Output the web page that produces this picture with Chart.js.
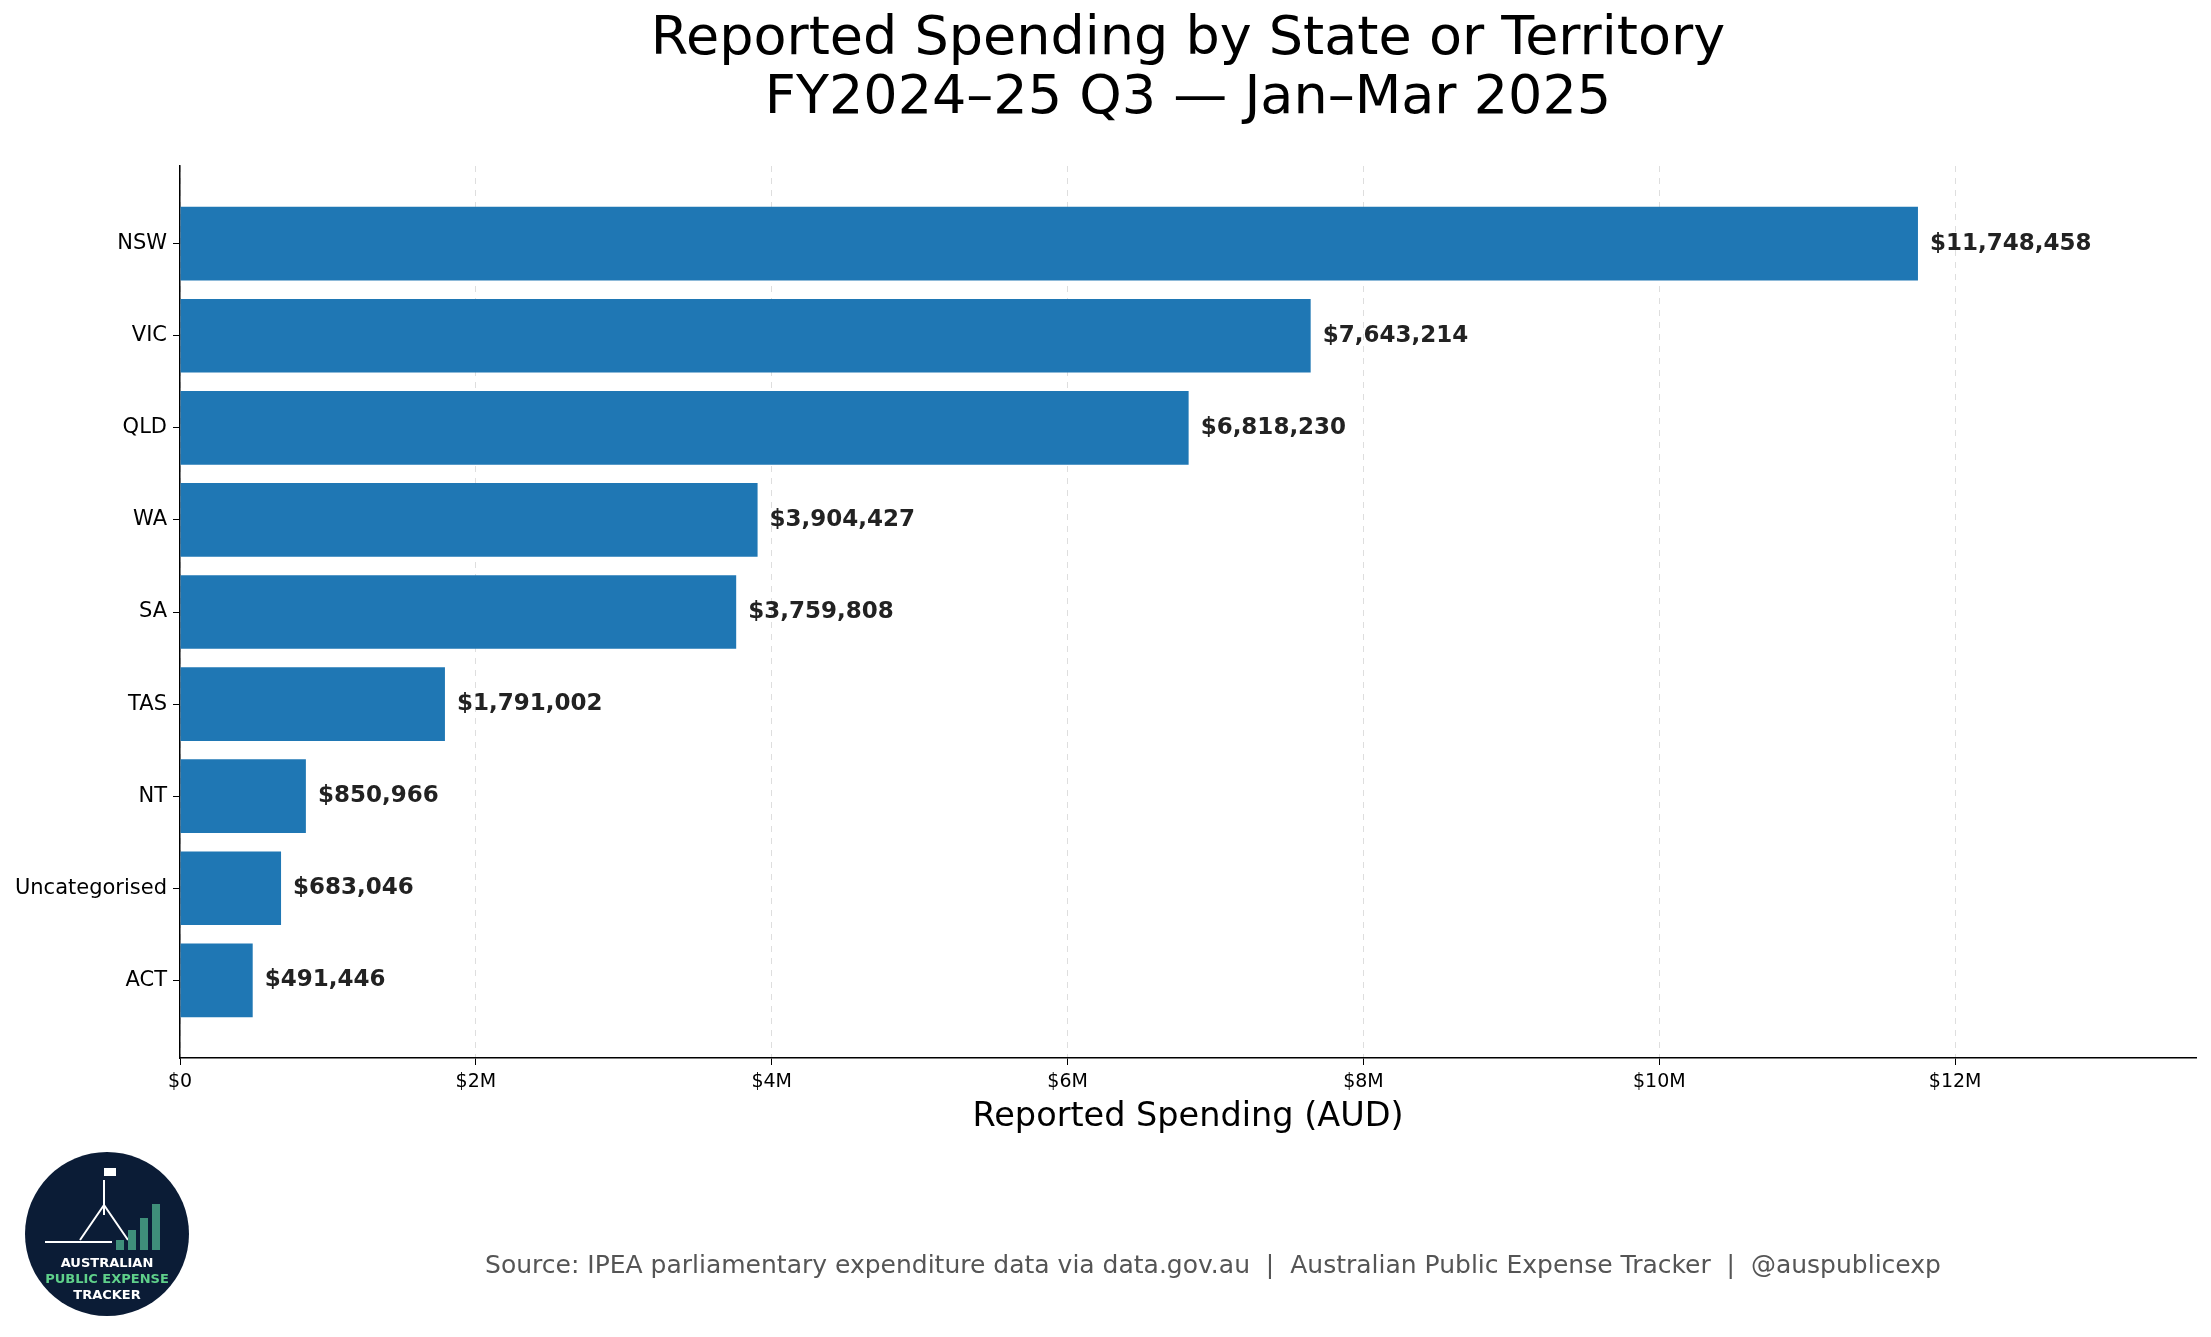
<!DOCTYPE html>
<html>
<head>
<meta charset="utf-8">
<script src="https://cdn.jsdelivr.net/npm/chart.js@4.4.1/dist/chart.umd.min.js"></script>
<style>
  body { margin: 0; background: #fff; }
  canvas { display: block; }
</style>
</head>
<body>
<canvas id="chart" width="2211" height="1337"></canvas>
<script>
const categories = ["NSW", "VIC", "QLD", "WA", "SA", "TAS", "NT", "Uncategorised", "ACT"];
const spending = [11748458, 7643214, 6818230, 3904427, 3759808, 1791002, 850966, 683046, 491446];
const tickValues = [0, 2000000, 4000000, 6000000, 8000000, 10000000, 12000000];
const titleLines = ["Reported Spending by State or Territory", "FY2024\u201325 Q3 \u2014 Jan\u2013Mar 2025"];
const xTitle = "Reported Spending (AUD)";
const sourceText = "Source: IPEA parliamentary expenditure data via data.gov.au  |  Australian Public Expense Tracker  |  @auspublicexp";

const font = "'DejaVu Sans', sans-serif";
const money = (v) => "$" + Math.round(v).toLocaleString("en-US");

const decorPlugin = {
  id: "decor",
  afterDraw(chart) {
    const { ctx, chartArea } = chart;
    ctx.save();
    // title
    ctx.fillStyle = "#000";
    ctx.textAlign = "center";
    ctx.textBaseline = "middle";
    ctx.font = `54px ${font}`;
    const cx = (chartArea.left + chartArea.right) / 2;
    ctx.fillText(titleLines[0], cx, 40);
    ctx.fillText(titleLines[1], cx, 99);
    // x axis title
    ctx.font = `33.5px ${font}`;
    ctx.fillText(xTitle, cx, 1117);
    // source
    ctx.fillStyle = "#555";
    ctx.font = `25px ${font}`;
    ctx.fillText(sourceText, 1213, 1266);
    // bar value labels
    ctx.fillStyle = "#222";
    ctx.font = `bold 23px ${font}`;
    ctx.textAlign = "left";
    const meta = chart.getDatasetMeta(0);
    meta.data.forEach((bar, i) => {
      ctx.fillText(money(spending[i]), bar.x + 12, bar.y);
    });
    // logo
    const lx = 107, ly = 1234, r = 82;
    ctx.fillStyle = "#0b1c36";
    ctx.beginPath();
    ctx.arc(lx, ly, r, 0, Math.PI * 2);
    ctx.fill();
    ctx.strokeStyle = "#fff";
    ctx.lineWidth = 2;
    ctx.beginPath();
    ctx.moveTo(104, 1180); ctx.lineTo(104, 1215);
    ctx.moveTo(104, 1205); ctx.lineTo(80, 1240);
    ctx.moveTo(104, 1205); ctx.lineTo(128, 1240);
    ctx.moveTo(45, 1242); ctx.lineTo(112, 1242);
    ctx.stroke();
    ctx.fillStyle = "#fff";
    ctx.fillRect(104, 1168, 12, 8);
    ctx.fillStyle = "#3f8f7a";
    [[116, 10], [128, 20], [140, 32], [152, 46]].forEach(([x, h]) => ctx.fillRect(x, 1250 - h, 8, h));
    ctx.textAlign = "center";
    ctx.font = `bold 13px ${font}`;
    ctx.fillStyle = "#fff";
    ctx.fillText("AUSTRALIAN", lx, 1264);
    ctx.fillStyle = "#5fd08a";
    ctx.fillText("PUBLIC EXPENSE", lx, 1280);
    ctx.fillStyle = "#fff";
    ctx.fillText("TRACKER", lx, 1296);
    ctx.restore();
  },
};

new Chart(document.getElementById("chart"), {
  type: "bar",
  data: {
    datasets: [
      {
        data: spending.map((v, i) => ({ x: v, y: i })),
        backgroundColor: "#1f77b4",
        barPercentage: 0.8,
        categoryPercentage: 1,
      },
    ],
  },
  plugins: [decorPlugin],
  options: {
    indexAxis: "y",
    responsive: false,
    devicePixelRatio: 1,
    animation: false,
    layout: { padding: { top: 166, right: 15, bottom: 179, left: 0 } },
    plugins: { legend: { display: false }, tooltip: { enabled: false } },
    scales: {
      x: {
        type: "linear",
        min: 0,
        max: 13628000,
        afterBuildTicks: (scale) => {
          scale.ticks = tickValues.map((v) => ({ value: v }));
        },
        afterFit: (scale) => { scale.height = 100; },
        ticks: {
          color: "#000",
          font: { family: font, size: 19 },
          padding: 6,
          callback: (v) => (v === 0 ? "$0" : "$" + v / 1000000 + "M"),
        },
        grid: {
          color: "rgba(0,0,0,0.13)",
          tickColor: "#000",
          tickLength: 7,
        },
        border: { color: "#000", width: 1.5, dash: [6, 6] },
      },
      y: {
        type: "linear",
        reverse: true,
        offset: false,
        min: -0.843,
        max: 8.843,
        afterBuildTicks: (scale) => {
          scale.ticks = categories.map((c, i) => ({ value: i }));
        },
        afterFit: (scale) => { scale.width = 180; },
        ticks: {
          color: "#000",
          font: { family: font, size: 21 },
          padding: 6,
          callback: (v) => categories[v] ?? "",
        },
        grid: { display: true, offset: false, drawOnChartArea: false, tickColor: "#000", tickLength: 7 },
        border: { color: "#000", width: 1.5 },
      },
    },
  },
});
</script>
</body>
</html>
